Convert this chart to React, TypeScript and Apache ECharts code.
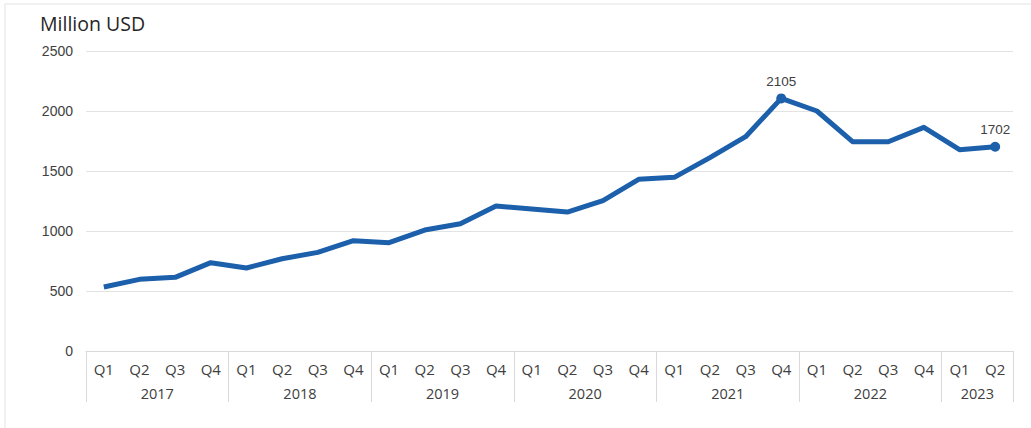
import React, { useEffect, useRef } from "react";
import * as echarts from "echarts";

const quarters = [
  "Q1","Q2","Q3","Q4","Q1","Q2","Q3","Q4","Q1","Q2","Q3","Q4",
  "Q1","Q2","Q3","Q4","Q1","Q2","Q3","Q4","Q1","Q2","Q3","Q4",
  "Q1","Q2",
];
const years = ["2017", "2018", "2019", "2020", "2021", "2022", "2023"];
const quartersPerYear = [4, 4, 4, 4, 4, 4, 2];
const values = [
  533, 597, 614, 736, 692, 769, 822, 919, 903, 1008, 1061, 1208,
  1183, 1158, 1253, 1431, 1447, 1611, 1786, 2105, 2000, 1744, 1744, 1864,
  1678, 1702,
];
const labeledIndices = [19, 25];
const yTicks = [0, 500, 1000, 1500, 2000, 2500];

export default function App() {
  const ref = useRef<HTMLDivElement>(null);
  useEffect(() => {
    if (!ref.current) return;
    const chart = echarts.init(ref.current, null, { renderer: "svg" });

    const boundaries: number[] = [0];
    const mids: number[] = [];
    let acc = 0;
    quartersPerYear.forEach((n) => {
      mids.push(acc + n / 2);
      acc += n;
      boundaries.push(acc);
    });
    const yearAt = (v: number) => {
      const i = mids.findIndex((m) => Math.abs(m - v) < 1e-6);
      return i >= 0 ? years[i] : "";
    };

    const data = values.map((v, i) =>
      labeledIndices.includes(i)
        ? {
            value: v,
            symbol: "circle",
            symbolSize: 10,
            label: {
              show: true,
              position: "top",
              distance: 5,
              fontFamily: "Liberation Sans, Arial, sans-serif",
              fontSize: 13.5,
              color: "#404040",
            },
          }
        : { value: v }
    );

    chart.setOption({
      animation: false,
      graphic: [
        {
          type: "rect",
          shape: { x: 5, y: 4, width: 1100, height: 500 },
          style: { fill: "none", stroke: "#e3e3e3", lineWidth: 1 },
          silent: true,
        },
        {
          type: "text",
          x: 40,
          y: 13,
          style: {
            text: "Million USD",
            fontFamily: "Open Sans, Noto Sans, sans-serif",
            fontSize: 19.5,
            fill: "#262626",
          },
        },
      ],
      grid: { left: 86, right: 18, top: 51, bottom: 77, containLabel: false },
      xAxis: [
        {
          type: "category",
          data: quarters,
          boundaryGap: true,
          axisLine: { show: true, lineStyle: { color: "#d9d9d9", width: 1 } },
          axisTick: { show: false },
          axisLabel: {
            interval: 0,
            margin: 10,
            fontFamily: "Open Sans, Noto Sans, sans-serif",
            fontSize: 15,
            color: "#404040",
          },
          splitLine: { show: false },
        },
        {
          type: "value",
          min: 0,
          max: values.length,
          position: "bottom",
          axisLine: { show: false },
          splitLine: { show: false },
          axisTick: {
            show: true,
            customValues: boundaries,
            length: 51,
            lineStyle: { color: "#d9d9d9", width: 1 },
          },
          axisLabel: {
            show: true,
            customValues: mids,
            margin: 35,
            formatter: (v: number) => yearAt(v),
            fontFamily: "Open Sans, Noto Sans, sans-serif",
            fontSize: 14.5,
            color: "#404040",
          },
        },
      ],
      yAxis: {
        type: "value",
        min: yTicks[0],
        max: yTicks[yTicks.length - 1],
        interval: 500,
        axisLine: { show: false },
        axisTick: { show: false },
        axisLabel: {
          margin: 13,
          formatter: (v: number) => String(v),
          fontFamily: "Liberation Sans, Arial, sans-serif",
          fontSize: 14,
          color: "#404040",
        },
        splitLine: { show: true, lineStyle: { color: "#e3e3e3", width: 1 } },
      },
      series: [
        {
          type: "line",
          xAxisIndex: 0,
          data,
          symbol: "none",
          showSymbol: true,
          lineStyle: { color: "#1c5fab", width: 5, join: "round" },
          itemStyle: { color: "#1c5fab" },
          label: { show: false },
          emphasis: { disabled: true },
        },
      ],
    });
    return () => chart.dispose();
  }, []);
  return (
    <div
      ref={ref}
      style={{ position: "absolute", left: 0, top: 0, width: 1031, height: 428, background: "#fff" }}
    />
  );
}
